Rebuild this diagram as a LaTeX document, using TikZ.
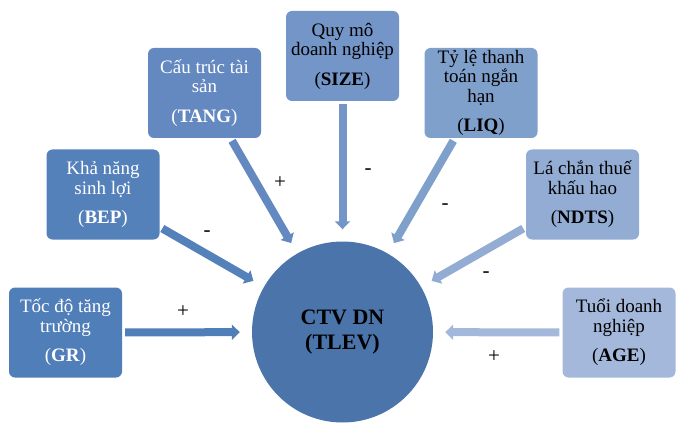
\documentclass[tikz,border=0pt]{standalone}
\usepackage{fontspec}
\setmainfont{Liberation Serif}
\usetikzlibrary{arrows.meta}
\definecolor{cgr}{HTML}{4F7EB8}
\definecolor{cbep}{HTML}{5581BB}
\definecolor{ctang}{HTML}{6389C0}
\definecolor{csize}{HTML}{7495C7}
\definecolor{cliq}{HTML}{80A0CC}
\definecolor{cndts}{HTML}{92ACD4}
\definecolor{cage}{HTML}{A3B8DA}
\definecolor{ccirc}{HTML}{4A74AA}
\tikzset{
  box/.style={rounded corners=6pt, minimum width=113pt, minimum height=90pt,
    align=center, inner sep=0pt, font=\fontsize{19}{19.5}\selectfont},
  fat/.style={line width=8pt, -{Triangle[width=15pt,length=8pt]},
    shorten <=3pt, shorten >=12pt},
  sign/.style={font=\fontsize{21}{21}\selectfont, inner sep=0pt}
}
\begin{document}
\begin{tikzpicture}[x=1pt,y=-1pt]
\useasboundingbox (0,0) rectangle (684,438);
\node[circle, fill=ccirc, minimum size=181pt, inner sep=0pt, align=center,
  font=\fontsize{22}{25}\selectfont\bfseries] (ctv) at (342.5,332) {CTV DN\\(TLEV)};

\node[box, fill=cgr, text=white] (gr) at (65.5,332.5) {Tốc độ tăng\\trường\\[10pt](\textbf{GR})};
\node[box, fill=cbep, text=white] (bep) at (103,194.5) {Khả năng\\sinh lợi\\[10pt](\textbf{BEP})};
\node[box, fill=ctang, text=white] (tang) at (204.5,93) {Cấu trúc tài\\sản\\[10pt](\textbf{TANG})};
\node[box, fill=csize] (size) at (342.5,56) {Quy mô\\doanh nghiệp\\[10pt](\textbf{SIZE})};
\node[box, fill=cliq] (liq) at (481,93) {Tỷ lệ thanh\\toán ngắn\\hạn\\[10pt](\textbf{LIQ})};
\node[box, fill=cndts] (ndts) at (582.5,194.5) {Lá chắn thuế\\khấu hao\\[10pt](\textbf{NDTS})};
\node[box, fill=cage] (age) at (619,332.5) {Tuổi doanh\\nghiệp\\[10pt](\textbf{AGE})};

\draw[fat, draw=cgr, fill=cgr] (gr) -- (ctv);
\draw[fat, draw=cbep, fill=cbep] (bep) -- (ctv);
\draw[fat, draw=ctang, fill=ctang] (tang) -- (ctv);
\draw[fat, draw=csize, fill=csize] (size) -- (ctv);
\draw[fat, draw=cliq, fill=cliq] (liq) -- (ctv);
\draw[fat, draw=cndts, fill=cndts] (ndts) -- (ctv);
\draw[fat, draw=cage, fill=cage] (age) -- (ctv);

\node[sign] (sgr) at (183,312) {+};
\node[sign] (sbep) at (207,234) {-};
\node[sign] (stang) at (280,183) {+};
\node[sign] (ssize) at (368,172) {-};
\node[sign] (sliq) at (445,207) {-};
\node[sign] (sndts) at (486,275) {-};
\node[sign] (sage) at (494,357) {+};
\end{tikzpicture}
\end{document}
